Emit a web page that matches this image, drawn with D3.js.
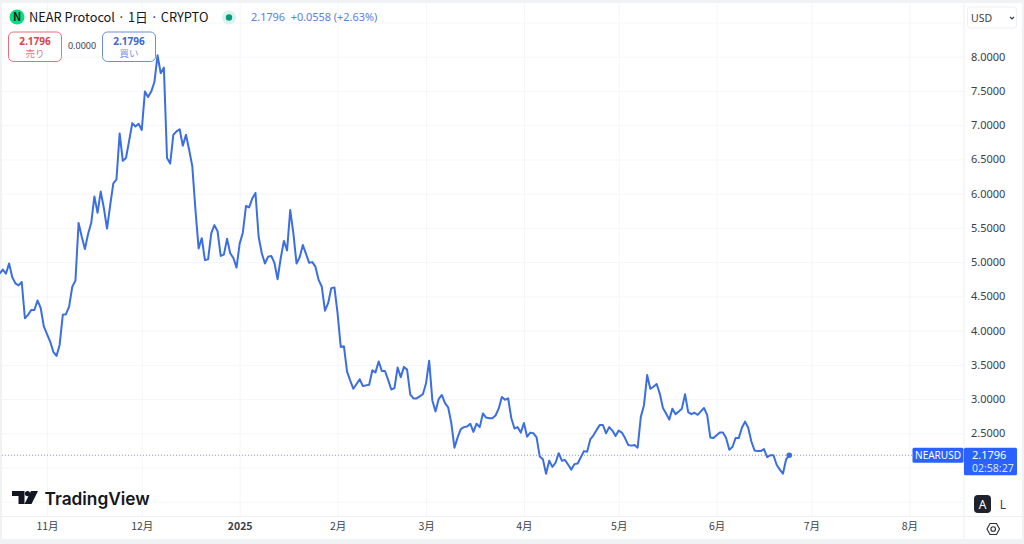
<!DOCTYPE html>
<html>
<head>
<meta charset="utf-8">
<script src="https://cdn.jsdelivr.net/npm/d3@7"></script>
<style>
  html, body { margin: 0; padding: 0; background: #fff; overflow: hidden; }
  text { font-family: "Noto Sans CJK JP", "Noto Sans", sans-serif; }
  .domain { display: none; }
</style>
</head>
<body>
<div id="chart"></div>
<script>
// daily closes, starting 2024-10-17
const closes = [
  4.83, 4.89, 4.83, 4.98, 4.78, 4.69, 4.66, 4.71, 4.18, 4.23,
  4.30, 4.30, 4.44, 4.33, 4.06, 3.95, 3.84, 3.69, 3.63, 3.79,
  4.23, 4.24, 4.35, 4.64, 4.73, 5.57, 5.37, 5.19, 5.41, 5.57,
  5.96, 5.72, 6.03, 5.79, 5.49, 5.83, 6.15, 6.21, 6.88, 6.48,
  6.52, 6.77, 7.03, 6.98, 7.02, 6.93, 7.49, 7.41, 7.49, 7.63,
  8.02, 7.76, 7.84, 6.52, 6.44, 6.86, 6.91, 6.94, 6.70, 6.86,
  6.64, 6.40, 5.76, 5.20, 5.35, 5.03, 5.04, 5.42, 5.54, 5.45,
  5.09, 5.11, 5.34, 5.13, 5.06, 4.92, 5.27, 5.43, 5.82, 5.80,
  5.93, 6.01, 5.37, 5.13, 4.98, 5.08, 5.09, 4.99, 4.75, 5.06,
  5.31, 5.17, 5.76, 5.42, 4.98, 5.07, 5.25, 5.12, 4.99, 5.00,
  4.93, 4.74, 4.64, 4.29, 4.40, 4.62, 4.63, 4.25, 3.76, 3.77,
  3.40, 3.27, 3.15, 3.22, 3.29, 3.19, 3.20, 3.21, 3.42, 3.39,
  3.55, 3.41, 3.41, 3.28, 3.14, 3.16, 3.46, 3.32, 3.47, 3.43,
  3.07, 3.01, 3.01, 3.04, 3.07, 3.23, 3.56, 2.98, 2.82, 3.00,
  3.06, 2.94, 2.88, 2.65, 2.29, 2.44, 2.56, 2.59, 2.60, 2.64,
  2.52, 2.64, 2.59, 2.79, 2.73, 2.72, 2.72, 2.76, 2.86, 3.03,
  2.99, 3.01, 2.72, 2.57, 2.59, 2.51, 2.65, 2.45, 2.51, 2.50,
  2.44, 2.16, 2.12, 1.91, 2.10, 2.01, 2.07, 2.21, 2.10, 2.11,
  2.04, 1.97, 2.05, 2.06, 2.15, 2.24, 2.23, 2.41, 2.47, 2.55,
  2.62, 2.62, 2.50, 2.59, 2.54, 2.46, 2.54, 2.51, 2.43, 2.33,
  2.32, 2.33, 2.29, 2.74, 2.91, 3.35, 3.15, 3.18, 3.22, 3.08,
  2.87, 2.79, 2.70, 2.86, 2.78, 2.82, 2.86, 3.07, 2.81, 2.78,
  2.80, 2.77, 2.82, 2.87, 2.77, 2.44, 2.43, 2.47, 2.51, 2.51,
  2.43, 2.26, 2.30, 2.43, 2.43, 2.58, 2.67, 2.58, 2.38, 2.25,
  2.24, 2.24, 2.27, 2.15, 2.18, 2.18, 2.04, 1.97, 1.91, 2.12,
  2.1796
];
const startDate = new Date(2024, 9, 17);

const monthTicks = [
  new Date(2024, 10, 1), new Date(2024, 11, 1), new Date(2025, 0, 1), new Date(2025, 1, 1),
  new Date(2025, 2, 1), new Date(2025, 3, 1), new Date(2025, 4, 1), new Date(2025, 5, 1),
  new Date(2025, 6, 1), new Date(2025, 7, 1)
];
const monthLabels = ["11月", "12月", "2025", "2月", "3月", "4月", "5月", "6月", "7月", "8月"];

const gridPrices = [8.5, 8, 7.5, 7, 6.5, 6, 5.5, 5, 4.5, 4, 3.5, 3, 2.5, 2, 1.5];
const labelPrices = [8, 7.5, 7, 6.5, 6, 5.5, 5, 4.5, 4, 3.5, 3, 2.5];

const lastPrice = 2.1796;
const symbolTitle = "NEAR Protocol · 1日 · CRYPTO";
const quoteText = "2.1796  +0.0558 (+2.63%)";
const spreadText = "0.0000";
const countdown = "02:58:27";

const W = 1024, H = 544;
const paneRight = 964, paneTop = 3, paneBottom = 516.5, pageBottom = 539;
const blue = "#2962ff", lineBlue = "#3b6ee3", ink = "#131722", axisInk = "#3a3e4a", grid = "#f5f6fa", border = "#eceef2";

const svg = d3.select("#chart").append("svg")
  .attr("width", W).attr("height", H).style("display", "block");

// page frame, the chart card sits on a pale background
svg.append("rect").attr("width", W).attr("height", H).attr("fill", "#f1f2f4");
svg.append("rect").attr("x", 2).attr("y", paneTop).attr("width", W - 4).attr("height", pageBottom - paneTop).attr("fill", "#fff");

// scales
const x = d3.scaleTime()
  .domain([monthTicks[0], monthTicks[9]])
  .range([47, 909.3]);
const y = d3.scaleLinear().domain([8, 2.5]).range([56.7, 433.3]);

const dayMs = 24 * 3600 * 1000;
const series = closes.map((c, i) => ({ date: new Date(startDate.getTime() + i * dayMs), close: c }));

// grid
svg.append("g").attr("transform", `translate(${paneRight},0)`)
  .call(d3.axisLeft(y).tickValues(gridPrices).tickSize(paneRight - 2).tickFormat(""))
  .selectAll("line").attr("stroke", grid);
svg.append("g").attr("transform", `translate(0,${paneBottom})`)
  .call(d3.axisTop(x).tickValues(monthTicks).tickSize(paneBottom - paneTop).tickFormat(""))
  .selectAll("line").attr("stroke", grid);

// last price dotted line
svg.append("line")
  .attr("x1", 2).attr("x2", paneRight)
  .attr("y1", y(lastPrice)).attr("y2", y(lastPrice))
  .attr("stroke", "#7f9ae0").attr("stroke-width", 1).attr("stroke-dasharray", "1 2");

// price line
const line = d3.line().x(d => x(d.date)).y(d => y(d.close));
svg.append("path").datum(series)
  .attr("d", line)
  .attr("fill", "none").attr("stroke", lineBlue).attr("stroke-width", 2).attr("stroke-linejoin", "round");
const last = series[series.length - 1];
svg.append("circle").attr("cx", x(last.date)).attr("cy", y(last.close)).attr("r", 2.8).attr("fill", lineBlue);

// axis separators
svg.append("line").attr("x1", paneRight).attr("x2", paneRight).attr("y1", paneTop).attr("y2", pageBottom).attr("stroke", border);
svg.append("line").attr("x1", 2).attr("x2", W - 2).attr("y1", paneBottom).attr("y2", paneBottom).attr("stroke", border);

// price axis
const yAxis = svg.append("g").attr("transform", `translate(${paneRight},0)`)
  .call(d3.axisRight(y).tickValues(labelPrices).tickSize(0).tickPadding(7).tickFormat(d3.format(".4f")));
yAxis.selectAll("text").attr("fill", axisInk).style("font-size", "11px").style("font-family", "'Noto Sans'");

// time axis
const xAxis = svg.append("g").attr("transform", `translate(0,${paneBottom})`)
  .call(d3.axisBottom(x).tickValues(monthTicks).tickSize(0).tickPadding(6)
    .tickFormat((d, i) => monthLabels[i]));
xAxis.selectAll("text").attr("fill", axisInk).style("font-size", "10.5px")
  .style("font-weight", (d, i) => monthLabels[i] === "2025" ? 700 : 400);

// legend
svg.append("circle").attr("cx", 17).attr("cy", 17).attr("r", 7.5).attr("fill", "#00e07f");
svg.append("text").attr("x", 17).attr("y", 21).attr("text-anchor", "middle")
  .attr("fill", ink).style("font-size", "11px").style("font-weight", 700).text("N");
svg.append("text").attr("x", 29).attr("y", 22).attr("fill", ink)
  .style("font-size", "12.8px").text(symbolTitle);
svg.append("circle").attr("cx", 229).attr("cy", 17.5).attr("r", 7).attr("fill", "#d9f2ec");
svg.append("circle").attr("cx", 229).attr("cy", 17.5).attr("r", 3.2).attr("fill", "#089981");
svg.append("text").attr("x", 251).attr("y", 21).attr("fill", "#5b80d6").attr("xml:space", "preserve")
  .style("font-size", "10.9px").style("font-family", "'Noto Sans'").text(quoteText);

// sell and buy buttons
function tradeButton(left, color, label) {
  svg.append("rect").attr("x", left + 0.5).attr("y", 32).attr("width", 53).attr("height", 29.5).attr("rx", 5)
    .attr("fill", "rgba(255,255,255,0.75)").attr("stroke", color).attr("stroke-opacity", 0.75);
  svg.append("text").attr("x", left + 27).attr("y", 45).attr("text-anchor", "middle")
    .attr("fill", color).style("font-size", "10px").style("font-weight", 700).style("font-family", "'Noto Sans'")
    .text(lastPrice.toFixed(4));
  svg.append("text").attr("x", left + 27).attr("y", 57).attr("text-anchor", "middle")
    .attr("fill", color).attr("fill-opacity", 0.75).style("font-size", "9.5px").text(label);
}
tradeButton(8, "#d9434f", "売り");
tradeButton(102, "#3f68c9", "買い");
svg.append("text").attr("x", 82).attr("y", 49).attr("text-anchor", "middle").attr("fill", axisInk)
  .style("font-size", "9px").style("font-family", "'Noto Sans'").text(spreadText);

// currency box
svg.append("rect").attr("x", 967.5).attr("y", 7).attr("width", 49).attr("height", 21).attr("rx", 3)
  .attr("fill", "#fff").attr("stroke", "#eef0f4");
svg.append("text").attr("x", 971).attr("y", 22).attr("fill", axisInk)
  .style("font-size", "10.5px").style("font-family", "'Noto Sans'").text("USD");
svg.append("path").attr("d", "M1010 17l2 2 2-2").attr("fill", "none").attr("stroke", axisInk).attr("stroke-width", 1.2);

// last price labels
svg.append("rect").attr("x", 912.5).attr("y", y(lastPrice) - 7.5).attr("width", 51).attr("height", 15).attr("rx", 1.5).attr("fill", blue);
svg.append("text").attr("x", 938).attr("y", y(lastPrice) + 4).attr("text-anchor", "middle").attr("fill", "#fff")
  .style("font-size", "10px").style("font-family", "'Noto Sans'").text("NEARUSD");
svg.append("rect").attr("x", 964).attr("y", y(lastPrice) - 7.5).attr("width", 53).attr("height", 27.5).attr("rx", 1.5).attr("fill", blue);
svg.append("text").attr("x", 972).attr("y", y(lastPrice) + 4).attr("fill", "#fff")
  .style("font-size", "11px").style("font-family", "'Noto Sans'").text(lastPrice.toFixed(4));
svg.append("text").attr("x", 972).attr("y", y(lastPrice) + 16.5).attr("fill", "#dbe5ff")
  .style("font-size", "10.5px").style("font-family", "'Noto Sans'").text(countdown);

// A / L buttons and settings
svg.append("rect").attr("x", 974).attr("y", 495).attr("width", 17).attr("height", 18).attr("rx", 4).attr("fill", "#1e222d");
svg.append("text").attr("x", 982.5).attr("y", 508.5).attr("text-anchor", "middle").attr("fill", "#fff")
  .style("font-size", "12px").style("font-family", "'Noto Sans'").text("A");
svg.append("rect").attr("x", 995).attr("y", 495).attr("width", 16).attr("height", 18).attr("rx", 3).attr("fill", "#fff");
svg.append("text").attr("x", 1003).attr("y", 508.5).attr("text-anchor", "middle").attr("fill", axisInk)
  .style("font-size", "12px").style("font-family", "'Noto Sans'").text("L");
svg.append("path").attr("d", "M987 529l3-5.5h6.5l3 5.5-3 5.5H990z").attr("fill", "none").attr("stroke", "#2a2e39").attr("stroke-width", 1.1);
svg.append("circle").attr("cx", 993.2).attr("cy", 529).attr("r", 2.3).attr("fill", "none").attr("stroke", "#2a2e39").attr("stroke-width", 1.1);

// TradingView mark
svg.append("path").attr("fill", ink)
  .attr("d", "M12 491h12.5v13h-6v-8H12zM31 491h7l-6.5 13h-7z");
svg.append("circle").attr("cx", 27.5).attr("cy", 493.6).attr("r", 2.6).attr("fill", ink);
svg.append("text").attr("x", 44.5).attr("y", 504.5).attr("fill", ink)
  .style("font-size", "17.3px").style("font-weight", 600).style("font-family", "Inter").text("TradingView");
</script>
</body>
</html>
